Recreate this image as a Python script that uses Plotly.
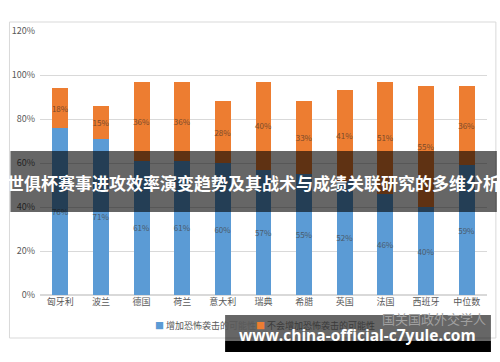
import plotly.graph_objects as go

categories = ["匈牙利", "波兰", "德国", "荷兰", "意大利", "瑞典", "希腊", "英国", "法国", "西班牙", "中位数"]
series_names = ["增加恐怖袭击的可能性", "不会增加恐怖袭击的可能性"]
blue_vals = [0.76, 0.71, 0.61, 0.61, 0.60, 0.57, 0.55, 0.52, 0.46, 0.40, 0.59]
orange_vals = [0.18, 0.15, 0.36, 0.36, 0.28, 0.40, 0.33, 0.41, 0.51, 0.55, 0.36]
y_ticks = [0, 0.2, 0.4, 0.6, 0.8, 1.0, 1.2]
title_text = "世俱杯赛事进攻效率演变趋势及其战术与成绩关联研究的多维分析"
watermark_url = "www.china-official-c7yule.com"
watermark_src = "国关国政外交学人"

W, H = 500, 362
L, R, T, B = 33, 13, 31, 67
PW, PH = W - L - R, H - T - B

def px(x):
    return (x - L) / PW

def py(y):
    return (H - B - y) / PH

FONT = "Noto Sans CJK SC, Noto Sans, sans-serif"
BLUE = "#5B9BD5"
ORANGE = "#ED7D31"
LABEL = "#595959"

fig = go.Figure()
fig.add_trace(go.Bar(
    x=categories, y=blue_vals, name=series_names[0], marker_color=BLUE,
    text=[f"{v*100:.0f}%" for v in blue_vals], textposition="inside", textangle=0,
    insidetextanchor="middle", textfont=dict(size=8, color="#4a5a6a", family=FONT),
    constraintext="none", marker_line_width=0, showlegend=False,
))
fig.add_trace(go.Bar(
    x=categories, y=orange_vals, name=series_names[1], marker_color=ORANGE,
    text=[f"{v*100:.0f}%" for v in orange_vals], textposition="inside", textangle=0,
    insidetextanchor="middle", textfont=dict(size=8, color="#7a4a2a", family=FONT),
    constraintext="none", marker_line_width=0, showlegend=False,
))

shapes = []
shapes.append(dict(type="rect", xref="paper", yref="paper", x0=px(2), x1=px(496), y0=py(338), y1=py(22),
                   line=dict(color="#d9d9d9", width=1), fillcolor="rgba(0,0,0,0)", layer="below"))
shapes.append(dict(type="rect", xref="paper", yref="paper", x0=px(3), x1=px(497), y0=py(212), y1=py(151),
                   line=dict(width=0), fillcolor="rgba(0,0,0,0.6)", layer="above"))
shapes.append(dict(type="rect", xref="paper", yref="paper", x0=px(221), x1=px(491), y0=py(341), y1=py(315),
                   line=dict(width=0), fillcolor="rgba(0,0,0,0.6)", layer="above"))
shapes.append(dict(type="rect", xref="paper", yref="paper", x0=px(221), x1=px(491), y0=py(352), y1=py(341),
                   line=dict(width=0), fillcolor="#000000", layer="above"))

annotations = []
annotations.append(dict(xref="paper", yref="paper", x=px(148), y=py(325), xanchor="left", yanchor="middle",
                        text=f"<span style='color:{BLUE}'>■</span> {series_names[0]}", showarrow=False,
                        font=dict(size=9, color=LABEL, family=FONT)))
annotations.append(dict(xref="paper", yref="paper", x=px(250), y=py(325), xanchor="left", yanchor="middle",
                        text=f"<span style='color:{ORANGE}'>■</span> {series_names[1]}", showarrow=False,
                        font=dict(size=9, color="#3a3a3a", family=FONT)))
annotations.append(dict(xref="paper", yref="paper", x=px(433), y=py(318), xanchor="center", yanchor="middle",
                        text=watermark_src, showarrow=False,
                        font=dict(size=13, color="#a0a0a0", family=FONT)))
annotations.append(dict(xref="paper", yref="paper", x=px(250), y=py(183), xanchor="center", yanchor="middle",
                        text=f"<b>{title_text}</b>", showarrow=False,
                        font=dict(size=17, color="white", family=FONT)))
annotations.append(dict(xref="paper", yref="paper", x=px(355), y=py(335), xanchor="center", yanchor="middle",
                        text=f"<b>{watermark_url}</b>", showarrow=False,
                        font=dict(size=15.5, color="white", family="Open Sans, Noto Sans, sans-serif")))

fig.update_layout(
    width=W, height=H, margin=dict(l=L, r=R, t=T, b=B),
    barmode="stack", bargap=0.61,
    paper_bgcolor="white", plot_bgcolor="white",
    font=dict(family=FONT, size=9, color=LABEL),
    shapes=shapes, annotations=annotations,
    uniformtext=dict(minsize=8, mode="show"),
)
fig.update_yaxes(range=[0, 1.2], tickvals=y_ticks, tickformat=".0%", showgrid=True,
                 gridcolor="#d9d9d9", gridwidth=1, zeroline=True, zerolinecolor="#d9d9d9",
                 showline=False, ticks="", tickfont=dict(size=9, color=LABEL), ticklabelstandoff=4)
fig.update_xaxes(showgrid=False, showline=False, ticks="", tickfont=dict(size=9, color=LABEL))

fig.write_html("out.html")
